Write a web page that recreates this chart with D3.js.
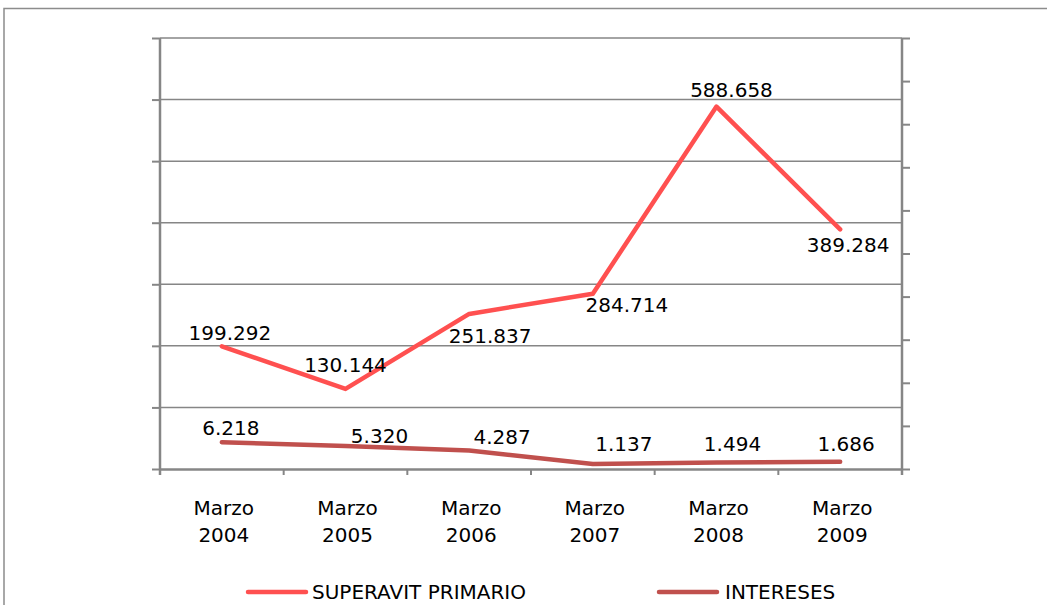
<!DOCTYPE html>
<html>
<head>
<meta charset="utf-8">
<script src="https://cdn.jsdelivr.net/npm/d3@7"></script>
<style>
  body { margin: 0; background: #fff; }
  text { font-family: "DejaVu Sans", sans-serif; fill: #000; }
</style>
</head>
<body>
<div id="chart"></div>
<script>
// datos
const categories = ["Marzo 2004", "Marzo 2005", "Marzo 2006", "Marzo 2007", "Marzo 2008", "Marzo 2009"];
const superavit = [199.292, 130.144, 251.837, 284.714, 588.658, 389.284];
const intereses = [6.218, 5.320, 4.287, 1.137, 1.494, 1.686];
const leftTicks = [0, 100, 200, 300, 400, 500, 600, 700];
const rightTicks = [0, 10, 20, 30, 40, 50, 60, 70, 80, 90, 100];

// desplazamiento de etiquetas (posicion manual como en el original)
const supLabelOffset = [[8, -13], [0, -24], [21, 22], [34, 11], [15, -17], [8, 16]];
const intLabelOffset = [[9, -14], [34, -10], [33, -14], [31, -20], [16, -19], [6, -18]];

const width = 1047;
const height = 605;
const plot = { left: 160, right: 902, top: 38, bottom: 469 };

const svg = d3.select("#chart")
  .append("svg")
  .attr("width", width)
  .attr("height", height);

// marco exterior del grafico
svg.append("rect")
  .attr("x", 4)
  .attr("y", 8.5)
  .attr("width", 1100)
  .attr("height", 700)
  .attr("fill", "none")
  .attr("stroke", "#8c8c8c")
  .attr("stroke-width", 1.5);

const x = d3.scaleBand()
  .domain(categories)
  .range([plot.left, plot.right]);

const yLeft = d3.scaleLinear().domain([0, 700]).range([plot.bottom, plot.top]);
const yRight = d3.scaleLinear().domain([0, 100]).range([plot.bottom, plot.top]);

// lineas de cuadricula
svg.append("g")
  .selectAll("line")
  .data(leftTicks.slice(1))
  .enter()
  .append("line")
  .attr("x1", plot.left)
  .attr("x2", plot.right)
  .attr("y1", (d) => yLeft(d))
  .attr("y2", (d) => yLeft(d))
  .attr("stroke", "#868686")
  .attr("stroke-width", 1.5);

// eje izquierdo (sin etiquetas)
const leftAxis = svg.append("g")
  .attr("transform", `translate(${plot.left},0)`)
  .call(d3.axisLeft(yLeft).tickValues(leftTicks).tickSize(8).tickFormat(""));

// eje derecho (sin etiquetas)
const rightAxis = svg.append("g")
  .attr("transform", `translate(${plot.right},0)`)
  .call(d3.axisRight(yRight).tickValues(rightTicks).tickSize(8).tickFormat(""));

// eje x
const bottomAxis = svg.append("g")
  .attr("transform", `translate(0,${plot.bottom})`)
  .call(d3.axisBottom(x).tickSize(0).tickFormat(""));

// marcas del eje x en los limites de cada banda
bottomAxis.selectAll(".sep")
  .data(d3.range(categories.length + 1))
  .enter()
  .append("line")
  .attr("class", "sep")
  .attr("x1", (i) => plot.left + i * x.step())
  .attr("x2", (i) => plot.left + i * x.step())
  .attr("y1", 0)
  .attr("y2", 6)
  .attr("stroke", "#868686")
  .attr("stroke-width", 2);

[leftAxis, rightAxis, bottomAxis].forEach((g) => {
  g.select(".domain").attr("stroke", "#868686").attr("stroke-width", 2.5);
  g.selectAll(".tick line").attr("stroke", "#868686").attr("stroke-width", 2);
});
leftAxis.select(".domain").attr("d", `M0,${plot.top}V${plot.bottom + 6}`);
rightAxis.select(".domain").attr("d", `M0,${plot.top}V${plot.bottom + 6}`);

// etiquetas del eje x en dos lineas
const xLabels = svg.append("g")
  .selectAll("text")
  .data(categories)
  .enter()
  .append("text")
  .attr("text-anchor", "middle")
  .style("font-size", "20px");

xLabels.each(function (d) {
  const parts = d.split(" ");
  const cx = x(d) + x.bandwidth() / 2 + 2;
  d3.select(this).append("tspan").attr("x", cx).attr("y", 515).text(parts[0]);
  d3.select(this).append("tspan").attr("x", cx).attr("y", 542).text(parts[1]);
});

const cxOf = (i) => x(categories[i]) + x.bandwidth() / 2;

const series = [
  { name: "SUPERAVIT PRIMARIO", values: superavit, scale: yLeft, color: "#ff5050", offs: supLabelOffset },
  { name: "INTERESES", values: intereses, scale: yRight, color: "#c0504d", offs: intLabelOffset }
];

const fmt = d3.format(".3f");

series.forEach((s) => {
  const line = d3.line()
    .x((d, i) => cxOf(i))
    .y((d) => s.scale(d));

  svg.append("path")
    .datum(s.values)
    .attr("d", line)
    .attr("fill", "none")
    .attr("stroke", s.color)
    .attr("stroke-width", 4.5)
    .attr("stroke-linecap", "round")
    .attr("stroke-linejoin", "round");

  svg.append("g")
    .selectAll("text")
    .data(s.values)
    .enter()
    .append("text")
    .attr("text-anchor", "middle")
    .attr("dominant-baseline", "central")
    .attr("x", (d, i) => cxOf(i) + s.offs[i][0])
    .attr("y", (d, i) => s.scale(d) + s.offs[i][1])
    .style("font-size", "20px")
    .text((d) => fmt(d));
});

// leyenda
const legendItems = [
  { x: 248, tx: 312 },
  { x: 659, tx: 725 }
];
const legend = svg.append("g")
  .selectAll("g")
  .data(series)
  .enter()
  .append("g");

legend.append("line")
  .attr("x1", (d, i) => legendItems[i].x)
  .attr("x2", (d, i) => legendItems[i].x + 58)
  .attr("y1", 592)
  .attr("y2", 592)
  .attr("stroke", (d) => d.color)
  .attr("stroke-width", 4.5)
  .attr("stroke-linecap", "round");

legend.append("text")
  .attr("x", (d, i) => legendItems[i].tx)
  .attr("y", 599)
  .style("font-size", "20px")
  .text((d) => d.name);
</script>
</body>
</html>
